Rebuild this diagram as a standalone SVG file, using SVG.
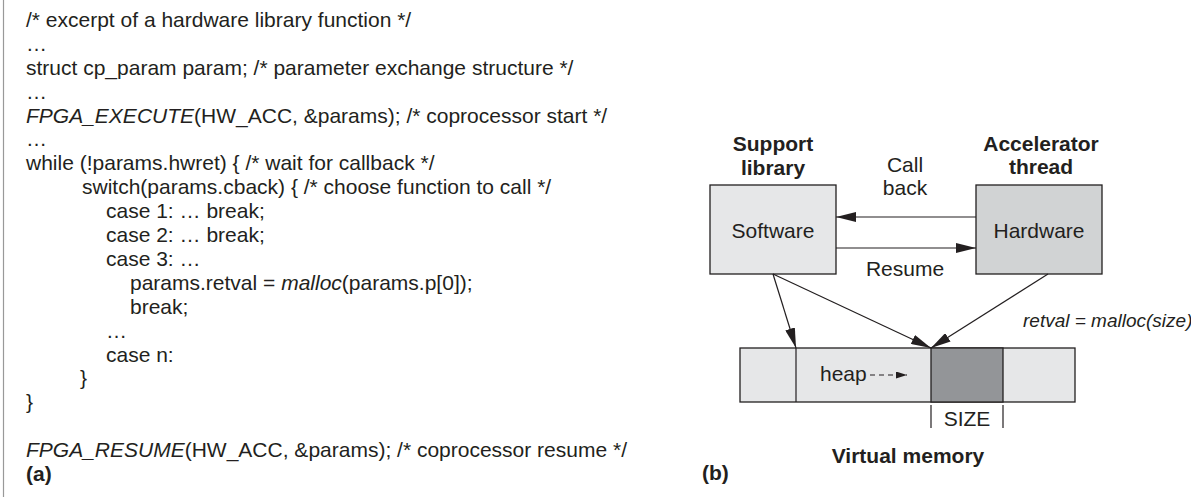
<svg xmlns="http://www.w3.org/2000/svg" width="1191" height="501" viewBox="0 0 1191 501">
<style>
text{font-family:"Liberation Sans",Arial,sans-serif;font-size:21px;fill:#231f20}
.b{font-weight:bold}
.i{font-style:italic}
.m{text-anchor:middle}
.ln{stroke:#231f20;stroke-width:1.2;fill:none}
.box{stroke:#231f20;stroke-width:1.3}
</style>
<defs>
<marker id="ah" markerUnits="userSpaceOnUse" markerWidth="20" markerHeight="10" refX="20" refY="5" orient="auto">
<path d="M0,0 L20,5 L0,10 z" fill="#231f20"/>
</marker>
<marker id="ahs" markerUnits="userSpaceOnUse" markerWidth="11" markerHeight="7" refX="11" refY="3.5" orient="auto">
<path d="M0,0 L11,3.5 L0,7 z" fill="#231f20"/>
</marker>
</defs>
<rect x="0" y="0" width="1191" height="501" fill="#fff"/>
<line x1="3.5" y1="0" x2="3.5" y2="497" stroke="#999" stroke-width="1.2"/>
<g id="code">
<text x="26" y="27">/* excerpt of a hardware library function */</text>
<text x="26" y="51">…</text>
<text x="26" y="75">struct cp_param param; /* parameter exchange structure */</text>
<text x="26" y="99">…</text>
<text x="26" y="123"><tspan class="i">FPGA_EXECUTE</tspan>(HW_ACC, &amp;params); /* coprocessor start */</text>
<text x="26" y="146">…</text>
<text x="26" y="170">while (!params.hwret) { /* wait for callback */</text>
<text x="82" y="194">switch(params.cback) { /* choose function to call */</text>
<text x="106" y="218">case 1: … break;</text>
<text x="106" y="242">case 2: … break;</text>
<text x="106" y="266">case 3: …</text>
<text x="130" y="290">params.retval = <tspan class="i">malloc</tspan>(params.p[0]);</text>
<text x="130" y="314">break;</text>
<text x="106" y="338">…</text>
<text x="106" y="362">case n:</text>
<text x="80" y="385">}</text>
<text x="26" y="409">}</text>
<text x="26" y="457"><tspan class="i">FPGA_RESUME</tspan>(HW_ACC, &amp;params); /* coprocessor resume */</text>
<text x="26" y="481" class="b">(a)</text>
</g>
<g id="software">
<text x="773" y="151" class="b m">Support</text>
<text x="773" y="175" class="b m">library</text>
<rect x="710" y="185" width="126" height="89" fill="#e6e7e8" class="box"/>
<text x="773" y="238" class="m">Software</text>
</g>
<g id="hardware">
<text x="1041" y="151" class="b m">Accelerator</text>
<text x="1041" y="174" class="b m">thread</text>
<rect x="976" y="185" width="126" height="89" fill="#d1d3d4" class="box"/>
<text x="1039" y="238" class="m">Hardware</text>
</g>
<g id="memory">
<rect x="740" y="348" width="335" height="54" fill="#e6e7e8" class="box"/>
<rect x="931" y="348" width="72" height="54" fill="#939598" class="box"/>
<line x1="796" y1="348" x2="796" y2="402" class="ln"/>
<text x="820" y="381">heap</text>
<line x1="931" y1="405" x2="931" y2="428" class="ln"/>
<line x1="1003" y1="405" x2="1003" y2="428" class="ln"/>
<text x="967" y="426" class="m">SIZE</text>
<text x="908" y="463" class="b m">Virtual memory</text>
</g>
<text x="702" y="480" class="b">(b)</text>
<g id="connectors">
<line x1="976" y1="217" x2="836" y2="217" class="ln" stroke="#444" marker-end="url(#ah)"/>
<text x="905" y="172" class="m">Call</text>
<text x="905" y="195" class="m">back</text>
<line x1="836" y1="248" x2="976" y2="248" class="ln" marker-end="url(#ah)"/>
<text x="905" y="276" class="m">Resume</text>
<line x1="773" y1="274" x2="796" y2="348" class="ln" marker-end="url(#ah)"/>
<line x1="773" y1="274" x2="931" y2="348" class="ln" marker-end="url(#ah)"/>
<line x1="1048" y1="274" x2="931" y2="348" class="ln" marker-end="url(#ah)"/>
<text x="1023" y="327" class="i" style="font-size:19px">retval = malloc(size)</text>
<line x1="870" y1="375" x2="907" y2="375" class="ln" stroke-dasharray="5,4" marker-end="url(#ahs)"/>
</g>
</svg>
